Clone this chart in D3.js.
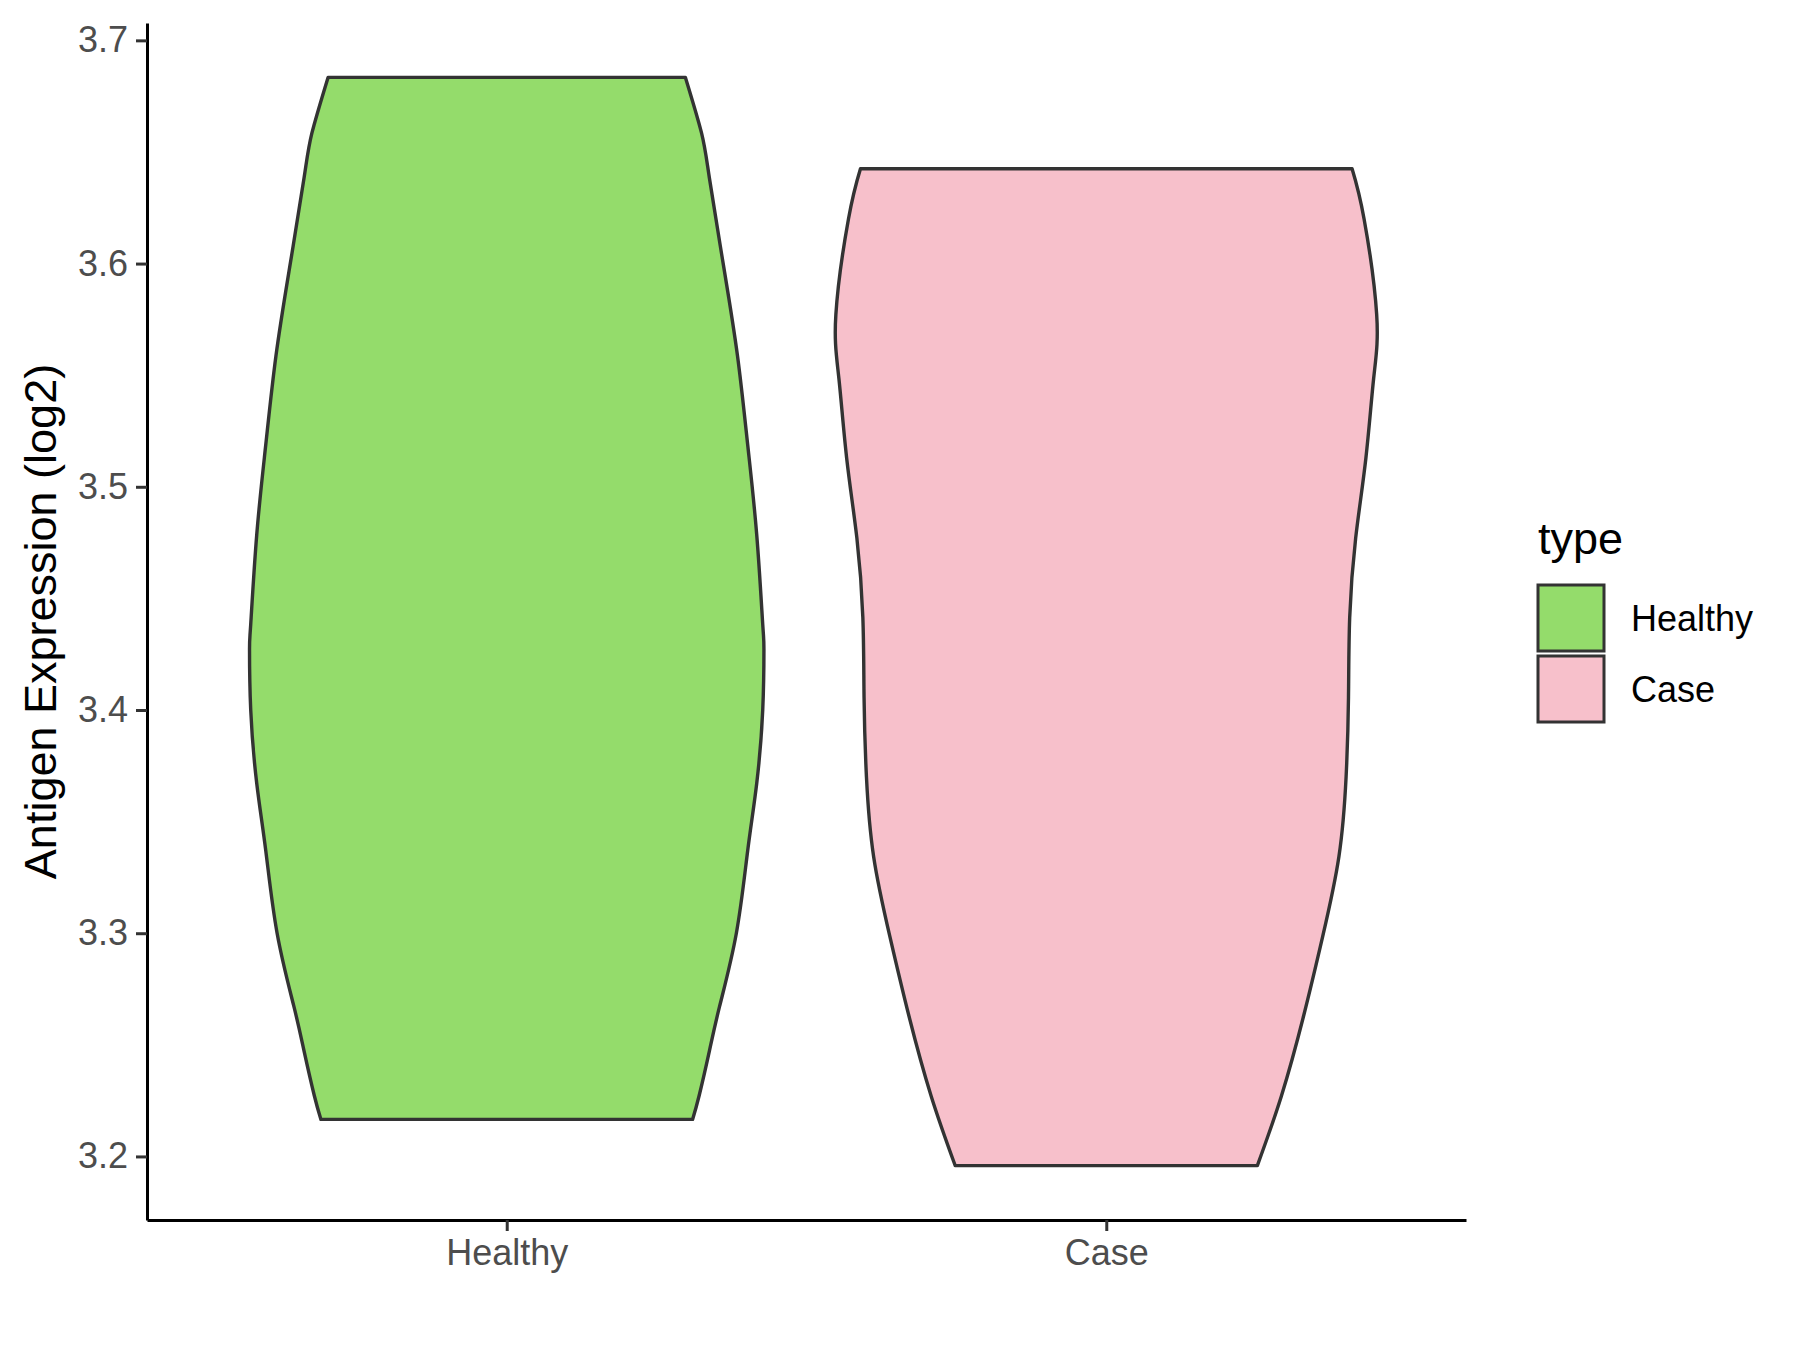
<!DOCTYPE html>
<html>
<head>
<meta charset="utf-8">
<script src="https://cdn.jsdelivr.net/npm/d3@7"></script>
<style>
  body { margin: 0; background: #fff; }
  svg { display: block; }
  text { font-family: "Liberation Sans", Arial, sans-serif; }
</style>
</head>
<body>
<div id="chart"></div>
<script>
// groups shown on the x axis and in the legend
var groups = ["Healthy", "Case"]
var groupColors = ["#94DC6B", "#F7C0CB"]
var yTicks = [3.2, 3.3, 3.4, 3.5, 3.6, 3.7]

// violin outlines: expression value and half width (in category units)
var healthyValues = [3.2166, 3.2273, 3.2472, 3.2672, 3.3000, 3.3372, 3.3672, 3.4000, 3.4272, 3.4384, 3.4784, 3.5186, 3.5585, 3.5984, 3.6384, 3.6584, 3.6834]
var healthyWidths = [0.310, 0.321, 0.338, 0.355, 0.383, 0.402, 0.417, 0.427, 0.429, 0.427, 0.417, 0.402, 0.385, 0.362, 0.338, 0.325, 0.298]
var caseValues = [3.1959, 3.2270, 3.2628, 3.2986, 3.3343, 3.3700, 3.4057, 3.4414, 3.4771, 3.5128, 3.5486, 3.5772, 3.6200, 3.6425]
var caseWidths = [0.252, 0.292, 0.329, 0.361, 0.388, 0.400, 0.404, 0.406, 0.416, 0.433, 0.446, 0.451, 0.430, 0.410]

var violins = [
  { name: "Healthy", values: healthyValues, widths: healthyWidths },
  { name: "Case", values: caseValues, widths: caseWidths }
]

var W = 1800, H = 1350
var margin = { top: 23, right: 334, bottom: 130, left: 147 }
var plotW = W - margin.left - margin.right
var plotH = H - margin.top - margin.bottom

var svg = d3.select("#chart").append("svg")
  .attr("width", W)
  .attr("height", H)

var g = svg.append("g")
  .attr("transform", "translate(" + margin.left + "," + margin.top + ")")

// discrete positions 1..n with ggplot's 0.6 expansion
var x = d3.scaleLinear()
  .domain([0.4, groups.length + 0.6])
  .range([0, plotW])

var allMin = d3.min([d3.min(healthyValues), d3.min(caseValues)])
var allMax = d3.max([d3.max(healthyValues), d3.max(caseValues)])
var pad = (allMax - allMin) * 0.05
var y = d3.scaleLinear()
  .domain([allMin - pad, allMax + pad])
  .range([plotH, 0])

var color = d3.scaleOrdinal().domain(groups).range(groupColors)

// violins
violins.forEach(function(v, i) {
  var center = i + 1
  var pts = v.values.map(function(val, j) { return { v: val, w: v.widths[j] } })
  var area = d3.area()
    .y(function(d) { return y(d.v) })
    .x0(function(d) { return x(center - d.w) })
    .x1(function(d) { return x(center + d.w) })
    .curve(d3.curveNatural)
  g.append("path")
    .datum(pts)
    .attr("d", area)
    .attr("fill", color(v.name))
    .attr("stroke", "#333333")
    .attr("stroke-width", 3.4)
    .attr("stroke-linejoin", "round")
})

// y axis
var yAxis = g.append("g")
  .call(d3.axisLeft(y).tickValues(yTicks).tickFormat(d3.format(".1f")).tickSize(11).tickSizeOuter(0).tickPadding(8))
yAxis.select(".domain").attr("stroke", "#000").attr("stroke-width", 3)
yAxis.selectAll(".tick line").attr("stroke", "#333").attr("stroke-width", 3)
yAxis.selectAll(".tick text")
  .attr("fill", "#4D4D4D")
  .style("font-size", "36px")

// x axis
var xAxis = g.append("g")
  .attr("transform", "translate(0," + plotH + ")")
  .call(d3.axisBottom(x).tickValues([1, 2]).tickFormat(function(d) { return groups[d - 1] }).tickSize(11).tickSizeOuter(0).tickPadding(8))
xAxis.select(".domain").attr("stroke", "#000").attr("stroke-width", 3)
xAxis.selectAll(".tick line").attr("stroke", "#333").attr("stroke-width", 3)
xAxis.selectAll(".tick text")
  .attr("fill", "#4D4D4D")
  .style("font-size", "36px")

// y axis title
svg.append("text")
  .attr("transform", "translate(56," + (margin.top + plotH / 2) + ") rotate(-90)")
  .attr("text-anchor", "middle")
  .style("font-size", "45px")
  .attr("fill", "#000")
  .text("Antigen Expression (log2)")

// legend
var legend = svg.append("g").attr("transform", "translate(1538,0)")
legend.append("text")
  .attr("x", 0)
  .attr("y", 554)
  .style("font-size", "45px")
  .text("type")

groups.forEach(function(name, i) {
  legend.append("rect")
    .attr("x", 0)
    .attr("y", 585 + i * 71)
    .attr("width", 66)
    .attr("height", 66)
    .attr("fill", color(name))
    .attr("stroke", "#333333")
    .attr("stroke-width", 3)
  legend.append("text")
    .attr("x", 93)
    .attr("y", 618 + i * 71)
    .attr("dy", "0.36em")
    .style("font-size", "36px")
    .text(name)
})
</script>
</body>
</html>
